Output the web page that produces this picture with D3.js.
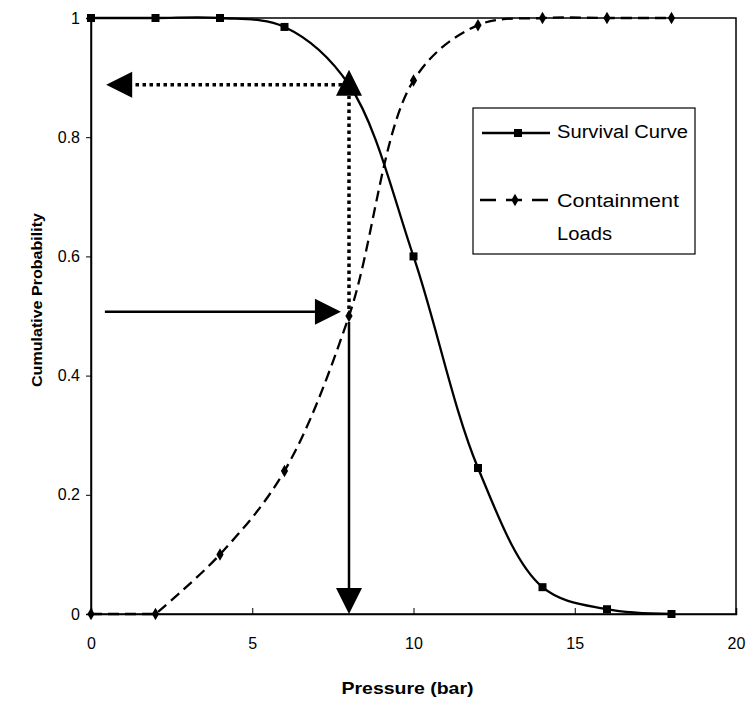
<!DOCTYPE html>
<html lang="en">

<head>
  <title>Survival curve vs containment loads</title>
  <script src="https://cdn.jsdelivr.net/npm/d3@7/dist/d3.min.js"></script>
  <style>
    body { margin: 0; background: #fff; }
    text { font-family: "Liberation Sans", Arial, sans-serif; fill: #000; }
    .axis path, .axis line { stroke: #000; }
    .axis text { font-size: 16px; }
    .axis-title { font-weight: bold; }
    .legend text { font-size: 18px; }
  </style>
</head>

<body>
  <script>
    // data
    var pressure = [0, 2, 4, 6, 8, 10, 12, 14, 16, 18];
    var survival = [1, 1, 1, 0.985, 0.888, 0.6, 0.245, 0.045, 0.008, 0];
    var loads = [0, 0, 0.1, 0.24, 0.5, 0.895, 0.988, 1, 1, 1];
    var xTicks = [0, 5, 10, 15, 20];
    var yTicks = [0, 0.2, 0.4, 0.6, 0.8, 1];
    // annotation arrows: [x1, y1, x2, y2] in data units, head at the second point
    var arrowsFrom = [[8, 0.888, 0.47, 0.888], [8, 0.5, 8, 0.913], [0.43, 0.507, 7.75, 0.507], [8, 0.49, 8, 0]];
    var arrowDotted = [true, true, false, false];

    var w = 747;
    var h = 702;
    var margin = { top: 18, left: 91, right: 11, bottom: 88 };
    var width = w - margin.left - margin.right;
    var height = h - margin.top - margin.bottom;

    var svg = d3.select("body").append("svg")
                .attr("width", w)
                .attr("height", h);
    var chart = svg.append("g")
                   .attr("transform", "translate(" + margin.left + "," + margin.top + ")");

    var x = d3.scaleLinear().domain([0, 20]).range([0, width]);
    var y = d3.scaleLinear().domain([0, 1]).range([height, 0]);

    // plot frame
    chart.append("rect")
         .attr("width", width)
         .attr("height", height)
         .attr("fill", "none")
         .attr("stroke", "#000")
         .attr("stroke-width", 1.5);

    chart.append("g")
         .classed("axis", true)
         .attr("transform", "translate(0," + height + ")")
         .call(d3.axisBottom(x).tickValues(xTicks).tickSize(-6).tickPadding(24))
         .call(function (g) { g.select(".domain").attr("stroke-width", 1.5); });

    chart.append("g")
         .classed("axis", true)
         .call(d3.axisLeft(y).tickValues(yTicks).tickSize(5).tickPadding(6)
                 .tickFormat(function (d) { return d === 0 || d === 1 ? d : d.toFixed(1); }))
         .call(function (g) { g.select(".domain").attr("stroke-width", 1.5); });

    chart.append("text")
         .classed("axis-title", true)
         .attr("text-anchor", "middle")
         .attr("x", x(10) - 6)
         .attr("y", height + 80)
         .style("font-size", "17px")
         .attr("textLength", 132)
         .attr("lengthAdjust", "spacingAndGlyphs")
         .text("Pressure (bar)");
    chart.append("text")
         .classed("axis-title", true)
         .attr("text-anchor", "middle")
         .attr("transform", "translate(-49," + (height / 2 - 16) + ") rotate(-90)")
         .style("font-size", "15.5px")
         .attr("textLength", 174)
         .attr("lengthAdjust", "spacingAndGlyphs")
         .text("Cumulative Probability");

    var survivalPts = pressure.map(function (p, i) { return [p, survival[i]]; });
    var loadPts = pressure.map(function (p, i) { return [p, loads[i]]; });

    var smooth = d3.line()
                   .x(function (d) { return x(d[0]); })
                   .y(function (d) { return y(d[1]); })
                   .curve(d3.curveCatmullRom.alpha(0.5));

    // flat start of the loads series drawn straight, the rest smoothed
    chart.append("path")
         .attr("d", d3.line()
                      .x(function (d) { return x(d[0]); })
                      .y(function (d) { return y(d[1]); })(loadPts.slice(0, 2)) +
                    smooth(loadPts.slice(1)).replace(/^M[^C]*/, ""))
         .attr("fill", "none")
         .attr("stroke", "#000")
         .attr("stroke-width", 2.3)
         .attr("stroke-dasharray", "11,6");
    chart.append("path")
         .attr("d", smooth(survivalPts))
         .attr("fill", "none")
         .attr("stroke", "#000")
         .attr("stroke-width", 2.3);

    chart.selectAll(".sq")
         .data(survivalPts)
         .enter()
           .append("rect")
           .classed("sq", true)
           .attr("x", function (d) { return x(d[0]) - 4; })
           .attr("y", function (d) { return y(d[1]) - 4; })
           .attr("width", 8)
           .attr("height", 8)
           .attr("fill", "#000");

    var diamond = d3.symbol().type(d3.symbolDiamond).size(45);
    chart.selectAll(".dm")
         .data(loadPts)
         .enter()
           .append("path")
           .classed("dm", true)
           .attr("d", diamond)
           .attr("transform", function (d) { return "translate(" + x(d[0]) + "," + y(d[1]) + ")"; })
           .attr("fill", "#000");

    // arrows
    arrowsFrom.forEach(function (a, i) {
      var x1 = x(a[0]), y1 = y(a[1]), x2 = x(a[2]), y2 = y(a[3]);
      var len = Math.sqrt((x2 - x1) * (x2 - x1) + (y2 - y1) * (y2 - y1));
      var ux = (x2 - x1) / len, uy = (y2 - y1) / len;
      var headLen = 26, headW = 13;
      var bx = x2 - ux * headLen, by = y2 - uy * headLen;
      chart.append("line")
           .attr("x1", x1).attr("y1", y1)
           .attr("x2", bx).attr("y2", by)
           .attr("stroke", "#000")
           .attr("stroke-width", arrowDotted[i] ? 3.5 : 2.5)
           .attr("stroke-dasharray", arrowDotted[i] ? "3.5,3.5" : null);
      chart.append("path")
           .attr("d", "M" + x2 + "," + y2 +
                      "L" + (bx - uy * headW) + "," + (by + ux * headW) +
                      "L" + (bx + uy * headW) + "," + (by - ux * headW) + "Z")
           .attr("fill", "#000");
    });

    // legend
    var legend = chart.append("g")
                      .classed("legend", true)
                      .attr("transform", "translate(" + (473 - margin.left) + "," + (108 - margin.top) + ")");
    legend.append("rect")
          .attr("width", 222)
          .attr("height", 146)
          .attr("fill", "#fff")
          .attr("stroke", "#000")
          .attr("stroke-width", 1.2);
    legend.append("line")
          .attr("x1", 9).attr("x2", 77).attr("y1", 25).attr("y2", 25)
          .attr("stroke", "#000").attr("stroke-width", 2.3);
    legend.append("rect")
          .attr("x", 45 - 4).attr("y", 25 - 4).attr("width", 8).attr("height", 8)
          .attr("fill", "#000");
    legend.append("text").attr("x", 84).attr("y", 30)
          .attr("textLength", 131).attr("lengthAdjust", "spacingAndGlyphs")
          .text("Survival Curve");
    legend.append("line")
          .attr("x1", 7).attr("x2", 77).attr("y1", 92).attr("y2", 92)
          .attr("stroke", "#000").attr("stroke-width", 2.3)
          .attr("stroke-dasharray", "16,10");
    legend.append("path")
          .attr("d", diamond)
          .attr("transform", "translate(42,92)")
          .attr("fill", "#000");
    legend.append("text").attr("x", 84).attr("y", 99)
          .attr("textLength", 122).attr("lengthAdjust", "spacingAndGlyphs")
          .text("Containment");
    legend.append("text").attr("x", 84).attr("y", 132)
          .attr("textLength", 55).attr("lengthAdjust", "spacingAndGlyphs")
          .text("Loads");
  </script>
</body>

</html>
